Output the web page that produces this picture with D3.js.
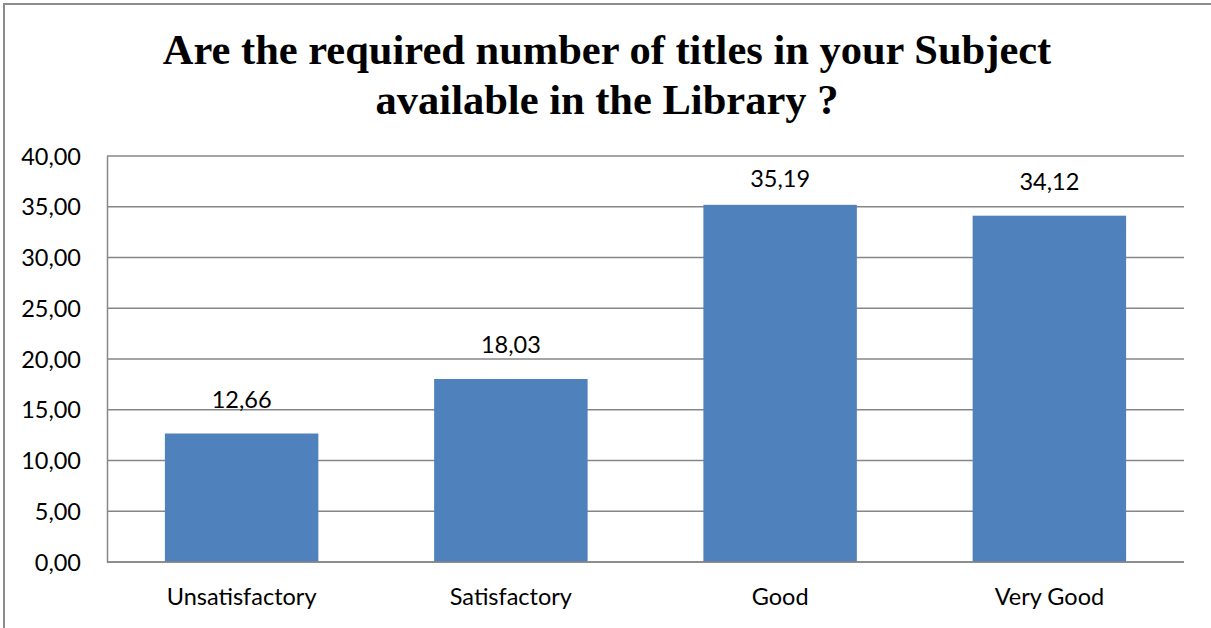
<!DOCTYPE html>
<meta charset="utf-8">
<style>
body { margin: 0; background: #fff; }
.title { font-family: "Liberation Serif", "Times New Roman", serif; font-weight: bold; font-size: 42.5px; text-anchor: middle; fill: #000; }
.tick text, .xlabel, .vlabel { font-family: Lato, "Open Sans", sans-serif; font-size: 23.5px; fill: #000; }
</style>
<svg width="1211" height="628"></svg>
<script src="https://d3js.org/d3.v7.min.js"></script>
<script>

var categories = ["Unsatisfactory", "Satisfactory", "Good", "Very Good"];
var values = [12.66, 18.03, 35.19, 34.12];
var yTicks = [0, 5, 10, 15, 20, 25, 30, 35, 40];
var titleLines = ["Are the required number of titles in your Subject", "available in the Library ?"];

var svg = d3.select("svg"),
    margin = {top: 156, right: 27, bottom: 66, left: 107},
    width = 1211 - margin.left - margin.right,
    height = 628 - margin.top - margin.bottom;

var fmt = d3.formatLocale({decimal: ",", thousands: ".", grouping: [3], currency: ["", ""]}).format(".2f");

// outer frame (only top/left visible, rest is cut off)
svg.append("rect")
    .attr("x", 4).attr("y", 4)
    .attr("width", 1240).attr("height", 660)
    .attr("fill", "none")
    .attr("stroke", "#8c8c8c")
    .attr("stroke-width", 2);

svg.selectAll(".title")
    .data(titleLines)
    .enter().append("text")
      .attr("class", "title")
      .attr("x", 607)
      .attr("y", function(d, i) { return 64 + i * 50; })
      .text(function(d) { return d; });

var g = svg.append("g").attr("transform", "translate(" + margin.left + "," + margin.top + ")");

var x = d3.scaleBand()
    .domain(categories)
    .range([0, width])
    .paddingInner(0.43)
    .paddingOuter(0.215);

var y = d3.scaleLinear()
    .domain([0, 40])
    .range([height, 0]);

// gridlines
g.selectAll(".grid")
    .data(yTicks)
    .enter().append("line")
      .attr("x1", 0).attr("x2", width)
      .attr("y1", function(d) { return y(d); })
      .attr("y2", function(d) { return y(d); })
      .attr("stroke", "#868686")
      .attr("stroke-width", 1.5);

var yAxis = g.append("g")
    .call(d3.axisLeft(y).tickValues(yTicks).tickFormat(fmt).tickSize(0).tickPadding(26));
yAxis.select(".domain").attr("stroke", "#868686").attr("stroke-width", 1.5);
yAxis.selectAll(".tick text").attr("dy", "0.35em");

g.selectAll(".bar")
    .data(values)
    .enter().append("rect")
      .attr("x", function(d, i) { return x(categories[i]); })
      .attr("y", function(d) { return y(d); })
      .attr("width", x.bandwidth())
      .attr("height", function(d) { return height - y(d); })
      .attr("fill", "#4f81bd");

// redraw baseline above bars
g.append("line")
    .attr("x1", 0).attr("x2", width)
    .attr("y1", y(0)).attr("y2", y(0))
    .attr("stroke", "#868686")
    .attr("stroke-width", 1.5);

// value labels; keep them inside the plot area near the top
g.selectAll(".vlabel")
    .data(values)
    .enter().append("text")
      .attr("class", "vlabel")
      .attr("text-anchor", "middle")
      .attr("x", function(d, i) { return x(categories[i]) + x.bandwidth() / 2; })
      .attr("y", function(d) { return Math.max(y(d) - 26, 31); })
      .text(function(d) { return fmt(d); });

g.selectAll(".xlabel")
    .data(categories)
    .enter().append("text")
      .attr("class", "xlabel")
      .attr("text-anchor", "middle")
      .attr("x", function(d) { return x(d) + x.bandwidth() / 2; })
      .attr("y", height + 43)
      .text(function(d) { return d; });

</script>
